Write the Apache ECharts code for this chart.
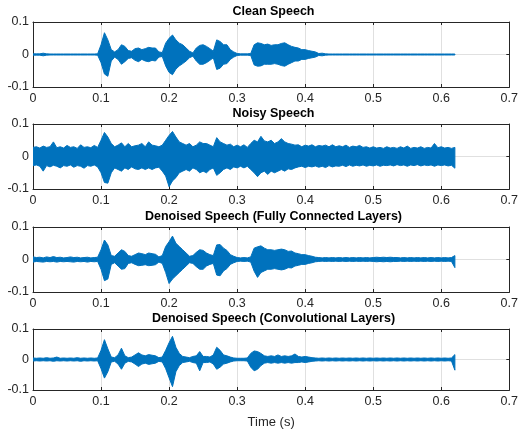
<!DOCTYPE html>
<html>
<head>
<meta charset="utf-8">
<script src="https://cdn.jsdelivr.net/npm/echarts@6/dist/echarts.min.js"></script>
<style>
  html, body { margin: 0; padding: 0; background: #fff; }
  #chart { width: 521px; height: 430px; }
</style>
</head>
<body>
<div id="chart"></div>
<script>
// Waveform envelopes (upper / lower amplitude) sampled every 5 ms, 0 .. 0.62 s
const sampleStep = 0.005;
const xTickValues = [0, 0.1, 0.2, 0.3, 0.4, 0.5, 0.6, 0.7];
const yTickValues = [-0.1, 0, 0.1];

const panelTitles = [
  'Clean Speech',
  'Noisy Speech',
  'Denoised Speech (Fully Connected Layers)',
  'Denoised Speech (Convolutional Layers)'
];

const cleanHi = [
  0.002,0.002,0.002,0.004,0.002,0.0015,0.0015,0.0015,0.0015,0.0015,
  0.0015,0.0015,0.0015,0.0015,0.0015,0.0015,0.0015,0.0015,0.0015,0.002,
  0.030,0.067,0.045,0.015,0.008,0.015,0.030,0.025,0.012,0.010,
  0.018,0.020,0.015,0.018,0.022,0.020,0.020,0.008,0.006,0.035,
  0.050,0.060,0.045,0.035,0.030,0.020,0.010,0.005,0.020,0.028,
  0.030,0.025,0.018,0.010,0.045,0.040,0.030,0.030,0.015,0.008,
  0.003,0.002,0.002,0.002,0.003,0.030,0.036,0.034,0.030,0.032,
  0.028,0.030,0.030,0.034,0.036,0.030,0.025,0.022,0.020,0.015,
  0.015,0.012,0.010,0.008,0.003,0.004,0.002,0.0015,0.0015,0.0015,
  0.0015,0.0015,0.0015,0.0015,0.0015,0.0015,0.0015,0.0015,0.0015,0.0015,
  0.0015,0.0015,0.0015,0.0015,0.0015,0.0015,0.0015,0.0015,0.0015,0.0015,
  0.0015,0.0015,0.0015,0.0015,0.0015,0.0015,0.0015,0.0015,0.0015,0.0015,
  0.0015,0.0015,0.0015,0.0015,0.0015
];
const cleanLo = [
  -0.002,-0.002,-0.002,-0.004,-0.002,-0.0015,-0.0015,-0.0015,-0.0015,-0.0015,
  -0.0015,-0.0015,-0.0015,-0.0015,-0.0015,-0.0015,-0.0015,-0.0015,-0.0015,-0.002,
  -0.025,-0.060,-0.067,-0.020,-0.008,-0.015,-0.030,-0.022,-0.012,-0.010,
  -0.018,-0.022,-0.015,-0.020,-0.022,-0.018,-0.020,-0.008,-0.006,-0.035,
  -0.055,-0.062,-0.045,-0.035,-0.028,-0.020,-0.010,-0.005,-0.020,-0.030,
  -0.030,-0.025,-0.018,-0.010,-0.046,-0.042,-0.030,-0.028,-0.015,-0.008,
  -0.003,-0.002,-0.002,-0.002,-0.003,-0.032,-0.036,-0.035,-0.030,-0.030,
  -0.030,-0.028,-0.030,-0.034,-0.036,-0.030,-0.025,-0.020,-0.020,-0.015,
  -0.015,-0.012,-0.010,-0.008,-0.003,-0.004,-0.002,-0.0015,-0.0015,-0.0015,
  -0.0015,-0.0015,-0.0015,-0.0015,-0.0015,-0.0015,-0.0015,-0.0015,-0.0015,-0.0015,
  -0.0015,-0.0015,-0.0015,-0.0015,-0.0015,-0.0015,-0.0015,-0.0015,-0.0015,-0.0015,
  -0.0015,-0.0015,-0.0015,-0.0015,-0.0015,-0.0015,-0.0015,-0.0015,-0.0015,-0.0015,
  -0.0015,-0.0015,-0.0015,-0.0015,-0.0015
];

const noisyHi = [
  0.028,0.030,0.026,0.032,0.028,0.030,0.045,0.027,0.030,0.026,
  0.034,0.028,0.030,0.025,0.036,0.028,0.030,0.027,0.034,0.028,
  0.050,0.074,0.060,0.040,0.030,0.035,0.042,0.030,0.040,0.030,
  0.033,0.035,0.040,0.030,0.045,0.035,0.033,0.030,0.035,0.050,
  0.065,0.077,0.060,0.045,0.040,0.035,0.040,0.030,0.035,0.045,
  0.040,0.040,0.035,0.030,0.058,0.045,0.040,0.035,0.038,0.030,
  0.035,0.030,0.036,0.028,0.040,0.050,0.045,0.062,0.048,0.045,
  0.050,0.040,0.045,0.055,0.045,0.040,0.038,0.035,0.036,0.030,
  0.035,0.032,0.036,0.030,0.034,0.032,0.035,0.030,0.036,0.030,
  0.033,0.030,0.035,0.028,0.032,0.030,0.034,0.028,0.030,0.026,
  0.030,0.026,0.028,0.025,0.030,0.026,0.028,0.025,0.030,0.026,
  0.032,0.025,0.028,0.026,0.030,0.025,0.028,0.026,0.040,0.027,
  0.030,0.026,0.028,0.025,0.028
];
const noisyLo = [
  -0.028,-0.026,-0.030,-0.045,-0.028,-0.032,-0.027,-0.030,-0.035,-0.028,
  -0.030,-0.026,-0.033,-0.028,-0.030,-0.036,-0.028,-0.030,-0.026,-0.032,
  -0.050,-0.080,-0.082,-0.050,-0.035,-0.040,-0.045,-0.035,-0.040,-0.032,
  -0.038,-0.040,-0.035,-0.040,-0.035,-0.040,-0.035,-0.033,-0.045,-0.060,
  -0.093,-0.075,-0.065,-0.050,-0.045,-0.040,-0.045,-0.035,-0.040,-0.050,
  -0.045,-0.050,-0.040,-0.035,-0.058,-0.050,-0.040,-0.035,-0.040,-0.032,
  -0.035,-0.030,-0.035,-0.030,-0.040,-0.050,-0.062,-0.050,-0.045,-0.055,
  -0.045,-0.050,-0.045,-0.040,-0.045,-0.038,-0.040,-0.035,-0.032,-0.030,
  -0.034,-0.030,-0.032,-0.029,-0.033,-0.030,-0.034,-0.028,-0.032,-0.029,
  -0.030,-0.027,-0.031,-0.026,-0.030,-0.027,-0.029,-0.026,-0.030,-0.027,
  -0.029,-0.026,-0.030,-0.027,-0.028,-0.026,-0.029,-0.025,-0.028,-0.026,
  -0.030,-0.026,-0.028,-0.025,-0.029,-0.026,-0.028,-0.026,-0.030,-0.026,
  -0.028,-0.026,-0.029,-0.027,-0.036
];

const fcHi = [
  0.008,0.006,0.007,0.005,0.008,0.006,0.009,0.006,0.007,0.005,
  0.006,0.008,0.006,0.007,0.005,0.006,0.007,0.005,0.006,0.007,
  0.030,0.060,0.045,0.012,0.010,0.020,0.030,0.025,0.012,0.010,
  0.015,0.020,0.018,0.015,0.020,0.018,0.016,0.008,0.012,0.040,
  0.055,0.072,0.050,0.040,0.030,0.020,0.010,0.012,0.022,0.030,
  0.028,0.020,0.015,0.012,0.045,0.046,0.035,0.028,0.015,0.010,
  0.006,0.005,0.006,0.005,0.008,0.035,0.039,0.042,0.035,0.030,
  0.030,0.028,0.030,0.032,0.030,0.025,0.026,0.020,0.018,0.015,
  0.015,0.012,0.010,0.007,0.006,0.005,0.006,0.005,0.006,0.005,
  0.006,0.005,0.006,0.005,0.006,0.005,0.006,0.005,0.006,0.005,
  0.006,0.007,0.006,0.007,0.006,0.007,0.006,0.006,0.005,0.006,
  0.005,0.006,0.005,0.006,0.005,0.006,0.005,0.006,0.005,0.006,
  0.005,0.006,0.005,0.006,0.012
];
const fcLo = [
  -0.008,-0.006,-0.007,-0.008,-0.006,-0.007,-0.006,-0.008,-0.006,-0.007,
  -0.006,-0.007,-0.008,-0.006,-0.007,-0.006,-0.008,-0.006,-0.007,-0.006,
  -0.030,-0.065,-0.060,-0.015,-0.010,-0.020,-0.030,-0.028,-0.012,-0.010,
  -0.015,-0.019,-0.018,-0.016,-0.019,-0.018,-0.016,-0.008,-0.012,-0.040,
  -0.074,-0.060,-0.050,-0.040,-0.030,-0.020,-0.010,-0.012,-0.022,-0.030,
  -0.030,-0.020,-0.015,-0.012,-0.048,-0.050,-0.035,-0.028,-0.015,-0.010,
  -0.006,-0.005,-0.006,-0.005,-0.008,-0.036,-0.055,-0.040,-0.035,-0.030,
  -0.030,-0.028,-0.030,-0.032,-0.030,-0.025,-0.026,-0.020,-0.018,-0.015,
  -0.015,-0.012,-0.010,-0.007,-0.006,-0.005,-0.006,-0.005,-0.006,-0.005,
  -0.006,-0.005,-0.006,-0.005,-0.006,-0.005,-0.006,-0.005,-0.006,-0.005,
  -0.006,-0.007,-0.006,-0.007,-0.006,-0.007,-0.006,-0.006,-0.005,-0.006,
  -0.005,-0.006,-0.005,-0.006,-0.005,-0.006,-0.005,-0.006,-0.005,-0.006,
  -0.005,-0.006,-0.005,-0.006,-0.025
];

const convHi = [
  0.005,0.004,0.005,0.004,0.006,0.004,0.005,0.008,0.004,0.005,
  0.004,0.005,0.004,0.006,0.004,0.005,0.004,0.005,0.004,0.005,
  0.030,0.065,0.035,0.008,0.006,0.015,0.037,0.012,0.006,0.008,
  0.015,0.022,0.015,0.012,0.016,0.014,0.012,0.006,0.008,0.030,
  0.055,0.076,0.040,0.020,0.010,0.008,0.006,0.010,0.012,0.026,
  0.010,0.010,0.008,0.015,0.040,0.030,0.015,0.012,0.008,0.005,
  0.004,0.004,0.004,0.005,0.020,0.028,0.026,0.020,0.012,0.010,
  0.012,0.010,0.015,0.010,0.012,0.010,0.012,0.018,0.010,0.008,
  0.010,0.008,0.006,0.005,0.004,0.005,0.004,0.005,0.004,0.005,
  0.004,0.005,0.004,0.005,0.004,0.005,0.004,0.005,0.004,0.005,
  0.004,0.005,0.004,0.005,0.004,0.005,0.004,0.005,0.004,0.005,
  0.004,0.005,0.004,0.005,0.004,0.005,0.004,0.005,0.004,0.005,
  0.004,0.005,0.004,0.005,0.016
];
const convLo = [
  -0.005,-0.004,-0.005,-0.004,-0.005,-0.004,-0.006,-0.004,-0.005,-0.004,
  -0.005,-0.004,-0.005,-0.004,-0.006,-0.004,-0.005,-0.004,-0.005,-0.004,
  -0.030,-0.061,-0.040,-0.008,-0.006,-0.015,-0.032,-0.012,-0.006,-0.008,
  -0.015,-0.023,-0.015,-0.012,-0.016,-0.014,-0.012,-0.006,-0.008,-0.030,
  -0.060,-0.089,-0.040,-0.020,-0.010,-0.008,-0.006,-0.010,-0.012,-0.037,
  -0.010,-0.010,-0.008,-0.015,-0.032,-0.025,-0.015,-0.012,-0.008,-0.005,
  -0.004,-0.004,-0.004,-0.005,-0.025,-0.037,-0.032,-0.020,-0.012,-0.010,
  -0.012,-0.010,-0.012,-0.010,-0.012,-0.010,-0.012,-0.010,-0.010,-0.008,
  -0.010,-0.008,-0.006,-0.005,-0.004,-0.005,-0.004,-0.005,-0.004,-0.005,
  -0.004,-0.005,-0.004,-0.005,-0.004,-0.005,-0.004,-0.005,-0.004,-0.005,
  -0.004,-0.005,-0.004,-0.005,-0.004,-0.005,-0.004,-0.005,-0.004,-0.005,
  -0.004,-0.005,-0.004,-0.005,-0.004,-0.005,-0.004,-0.005,-0.004,-0.005,
  -0.004,-0.005,-0.004,-0.005,-0.035
];

const panelHi = [cleanHi, noisyHi, fcHi, convHi];
const panelLo = [cleanLo, noisyLo, fcLo, convLo];
const sampleTimes = cleanHi.map((_, i) => +(i * sampleStep).toFixed(4));

// ---- layout / style ----
const FONT = "'Liberation Sans', Arial, Helvetica, sans-serif";
const LINE_BLUE = '#0072BD';
const AXIS_COLOR = '#262626';
const GRID_COLOR = '#e0e0e0';
const plotLeft = 33, plotWidth = 481, plotHeight = 65;
const plotTops = [22, 124, 227, 329];

const chart = echarts.init(document.getElementById('chart'), null, { renderer: 'canvas' });

const grids = [], xAxes = [], yAxes = [], series = [], titles = [];

plotTops.forEach((top, k) => {
  grids.push({ left: plotLeft, top: top, width: plotWidth, height: plotHeight, containLabel: false });

  titles.push({
    text: panelTitles[k],
    left: plotLeft + plotWidth / 2,
    top: top - 17,
    padding: 0,
    textAlign: 'center',
    textStyle: { fontFamily: FONT, fontSize: 12.5, fontWeight: 'bold', color: '#000' }
  });

  const xCommon = {
    type: 'value', gridIndex: k, min: 0, max: 0.7, interval: 0.1,
    axisLine: { show: true, onZero: false, lineStyle: { color: AXIS_COLOR, width: 1 } },
    axisTick: { show: true, inside: true, length: 3, lineStyle: { color: AXIS_COLOR } }
  };
  // bottom axis with labels and grid lines
  xAxes.push(Object.assign({}, xCommon, {
    position: 'bottom',
    axisLabel: {
      show: true, margin: 5, color: AXIS_COLOR, fontFamily: FONT, fontSize: 12.5,
      formatter: v => {
        const t = xTickValues.find(x => Math.abs(x - v) < 1e-9);
        return t === undefined ? '' : String(t);
      }
    },
    splitLine: { show: true, lineStyle: { color: GRID_COLOR, width: 1 } },
    name: k === 3 ? 'Time (s)' : '',
    nameLocation: 'middle',
    nameGap: 26,
    nameTextStyle: { fontFamily: FONT, fontSize: 13, color: AXIS_COLOR }
  }));
  // top box edge
  xAxes.push(Object.assign({}, xCommon, {
    position: 'top', axisLabel: { show: false }, splitLine: { show: false }
  }));

  const yCommon = {
    type: 'value', gridIndex: k, min: -0.1, max: 0.1, interval: 0.1,
    axisLine: { show: true, onZero: false, lineStyle: { color: AXIS_COLOR, width: 1 } },
    axisTick: { show: true, inside: true, length: 3, lineStyle: { color: AXIS_COLOR } }
  };
  yAxes.push(Object.assign({}, yCommon, {
    position: 'left',
    axisLabel: {
      show: true, margin: 4, color: AXIS_COLOR, fontFamily: FONT, fontSize: 12.5,
      formatter: v => {
        const t = yTickValues.find(y => Math.abs(y - v) < 1e-9);
        return t === undefined ? '' : String(t);
      }
    },
    splitLine: { show: true, lineStyle: { color: GRID_COLOR, width: 1 } }
  }));
  yAxes.push(Object.assign({}, yCommon, {
    position: 'right', axisLabel: { show: false }, splitLine: { show: false }
  }));

  const hi = panelHi[k], lo = panelLo[k];
  series.push({
    type: 'custom',
    xAxisIndex: 2 * k,
    yAxisIndex: 2 * k,
    clip: true,
    silent: true,
    data: sampleTimes.map((t, i) => [t, hi[i], lo[i]]),
    encode: { x: 0, y: [1, 2] },
    // one filled outline per panel: upper envelope left to right, lower envelope back
    renderItem: function (params, api) {
      if (params.dataIndex !== 0) return null;
      const pts = [];
      for (let i = 0; i < sampleTimes.length; i++) pts.push(api.coord([sampleTimes[i], hi[i]]));
      for (let i = sampleTimes.length - 1; i >= 0; i--) pts.push(api.coord([sampleTimes[i], lo[i]]));
      return {
        type: 'polygon',
        shape: { points: pts },
        style: { fill: LINE_BLUE, stroke: LINE_BLUE, lineWidth: 1 }
      };
    }
  });
});

chart.setOption({
  animation: false,
  backgroundColor: '#ffffff',
  title: titles,
  grid: grids,
  xAxis: xAxes,
  yAxis: yAxes,
  series: series
});
</script>
</body>
</html>
